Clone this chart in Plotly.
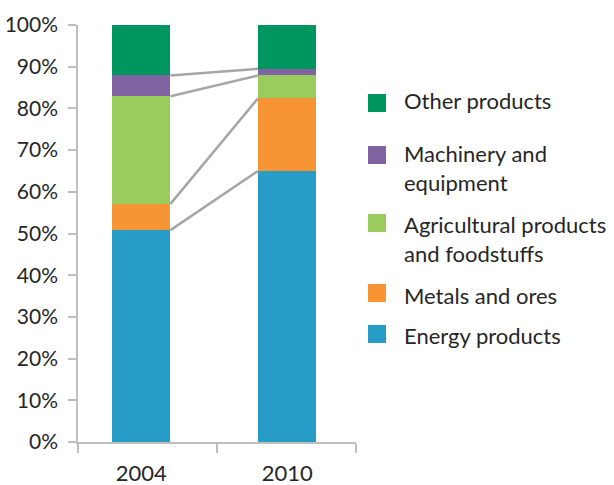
import plotly.graph_objects as go

# ---- data ----
years = ["2004", "2010"]
categories = ["Energy products", "Metals and ores", "Agricultural products and foodstuffs",
              "Machinery and equipment", "Other products"]
legend_labels = ["Energy products", "Metals and ores", "Agricultural products<br>and foodstuffs",
                 "Machinery and<br>equipment", "Other products"]
energy = [50.8, 65.0]
metals = [6.3, 17.4]
agri = [25.8, 5.5]
machinery = [5.0, 1.6]
other = [12.1, 10.5]
colors = ["#269CC7", "#F79433", "#99CC5C", "#8064A2", "#00965F"]
y_ticks = [0, 10, 20, 30, 40, 50, 60, 70, 80, 90, 100]
y_ticktext = [f"{v}%" for v in y_ticks]

series = [energy, metals, agri, machinery, other]
xpos = [0, 1]
bar_w = 0.40

FONT = "Lato"
TXT = "#262626"
AX = "#BFBFBF"

W, H = 614, 485
# plot area in screen pixels: x 78..356, y 25..442
L, R, T, B = 78, 356, 25, 442

def px(x):
    return (x - L) / (R - L)
def py(y):
    return (B - y) / (B - T)

fig = go.Figure()
for name, vals, col in zip(categories, series, colors):
    fig.add_trace(go.Bar(x=xpos, y=vals, name=name, width=bar_w,
                         marker=dict(color=col, line=dict(width=0)), showlegend=False))

# connector lines between the tops of segments (except the last)
cum = [0, 0]
for vals in series[:-1]:
    cum = [cum[0] + vals[0], cum[1] + vals[1]]
    fig.add_trace(go.Scatter(x=[xpos[0] + bar_w / 2, xpos[1] - bar_w / 2], y=list(cum),
                             mode="lines", line=dict(color="#A6A6A6", width=2.5),
                             showlegend=False, hoverinfo="skip"))

# custom legend (swatches + labels), screen pixel centres
sw_centers = [334, 293, 223, 155, 103]
txt_centers = [335, 295, 239, 168, 101]
shapes = []
annotations = []
for lab, col, sc, tc in zip(legend_labels, colors, sw_centers, txt_centers):
    shapes.append(dict(type="rect", xref="paper", yref="paper",
                       x0=px(368), x1=px(386), y0=py(sc + 9), y1=py(sc - 9),
                       fillcolor=col, line=dict(width=0)))
    annotations.append(dict(text=lab, xref="paper", yref="paper", x=px(402), y=py(tc),
                            xanchor="left", yanchor="middle", align="left", showarrow=False,
                            font=dict(family=FONT, size=22, color=TXT)))

fig.update_layout(
    barmode="stack",
    width=W, height=H,
    margin=dict(l=L, r=W - R, t=T, b=H - B, autoexpand=False),
    plot_bgcolor="white", paper_bgcolor="white",
    font=dict(family=FONT, size=21, color=TXT),
    shapes=shapes, annotations=annotations,
    xaxis=dict(range=[-0.434, 1.472], tickvals=xpos, ticktext=years, ticks="",
               tickfont=dict(size=22),
               showline=True, linecolor=AX, linewidth=1.5, showgrid=False, zeroline=False,
               ticklabelstandoff=11, automargin=False,
               minor=dict(tickvals=[-0.434, 0.519, 1.472], ticks="outside", ticklen=9,
                          tickcolor=AX, tickwidth=1.5, showgrid=False)),
    yaxis=dict(range=[0, 100], tickvals=y_ticks, ticktext=y_ticktext, ticks="outside",
               tickfont=dict(size=21),
               ticklen=8, tickcolor=AX, tickwidth=1.5, showline=True, linecolor=AX,
               linewidth=1.5, showgrid=False, zeroline=False, ticklabelstandoff=6,
               automargin=False),
)

fig.write_html("out.html", config={"displayModeBar": False},
               post_script="document.body.style.margin='0';document.body.style.padding='0';")
